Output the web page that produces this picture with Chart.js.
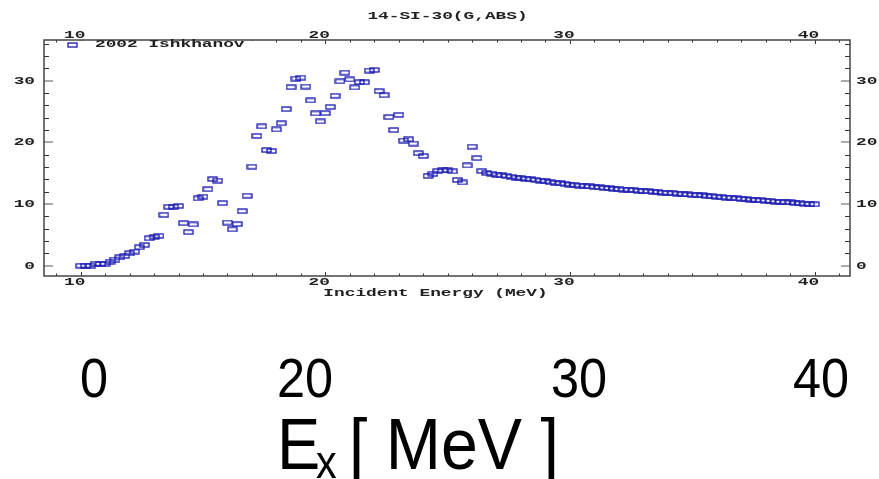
<!DOCTYPE html>
<html>
<head>
<meta charset="utf-8">
<style>
html, body { margin: 0; padding: 0; background: #fff; width: 879px; height: 479px; overflow: hidden; }
#chart { position: absolute; left: 0; top: 0; }
.big { position: absolute; font-family: "Liberation Sans", Arial, sans-serif; color: #000; line-height: 1; white-space: nowrap; }
.num { font-size: 56px; top: 350px; transform: translateX(-50%) scaleX(0.9); }
.lab { font-size: 72px; top: 408px; transform-origin: 0 0; transform: scaleX(0.9); }
</style>
<script src="https://cdn.jsdelivr.net/npm/chart.js"></script>
</head>
<body>
<canvas id="chart" width="879" height="479"></canvas>

<div class="big num" style="left:94px">0</div>
<div class="big num" style="left:305px">20</div>
<div class="big num" style="left:579px">30</div>
<div class="big num" style="left:821px">40</div>
<div class="big lab" style="left:277px">E</div>
<div class="big" style="font-size:46px; left:316px; top:439px; transform-origin:0 0; transform:scaleX(0.9)">x</div>
<div class="big lab" style="left:349px; transform:scaleX(0.92)">[ MeV ]</div>

<script>
// photo-absorption data
const energy = [
  10.0, 10.2, 10.4, 10.6, 10.8, 11.0, 11.2, 11.4, 11.6, 11.8,
  12.0, 12.2, 12.4, 12.6, 12.8, 13.0, 13.2, 13.4, 13.6, 13.8,
  14.0, 14.2, 14.4, 14.6, 14.8, 15.0, 15.2, 15.4, 15.6, 15.8,
  16.0, 16.2, 16.4, 16.6, 16.8, 17.0, 17.2, 17.4, 17.6, 17.8,
  18.0, 18.2, 18.4, 18.6, 18.8, 19.0, 19.2, 19.4, 19.6, 19.8,
  20.0, 20.2, 20.4, 20.6, 20.8, 21.0, 21.2, 21.4, 21.6, 21.8,
  22.0, 22.2, 22.4, 22.6, 22.8, 23.0, 23.2, 23.4, 23.6, 23.8,
  24.0, 24.2, 24.4, 24.6, 24.8, 25.0, 25.2, 25.4, 25.6, 25.8,
  26.0, 26.2, 26.4, 26.6, 26.8, 27.0, 27.2, 27.4, 27.6, 27.8,
  28.0, 28.2, 28.4, 28.6, 28.8, 29.0, 29.2, 29.4, 29.6, 29.8,
  30.0, 30.2, 30.4, 30.6, 30.8, 31.0, 31.2, 31.4, 31.6, 31.8,
  32.0, 32.2, 32.4, 32.6, 32.8, 33.0, 33.2, 33.4, 33.6, 33.8,
  34.0, 34.2, 34.4, 34.6, 34.8, 35.0, 35.2, 35.4, 35.6, 35.8,
  36.0, 36.2, 36.4, 36.6, 36.8, 37.0, 37.2, 37.4, 37.6, 37.8,
  38.0, 38.2, 38.4, 38.6, 38.8, 39.0, 39.2, 39.4, 39.6, 39.8,
  40.0
];
const sigma = [
  0.0, 0.0, 0.0, 0.3, 0.3, 0.3, 0.65, 1.0, 1.35, 1.6,
  2.0, 2.3, 3.0, 3.35, 4.45, 4.7, 4.85, 8.25, 9.55, 9.55,
  9.7, 6.9, 5.45, 6.7, 10.9, 11.2, 12.4, 14.05, 13.8, 10.15,
  7.0, 5.9, 6.75, 8.85, 11.35, 16.05, 21.05, 22.6, 18.75, 18.6,
  22.1, 23.1, 25.4, 28.95, 30.35, 30.5, 29.05, 26.8, 24.7, 23.4,
  24.75, 25.75, 27.55, 29.9, 31.3, 30.2, 28.9, 29.75, 29.75, 31.65,
  31.75, 28.3, 27.65, 24.1, 22.0, 24.45, 20.3, 20.5, 19.8, 18.25,
  17.8, 14.55, 14.9, 15.35, 15.45, 15.45, 15.3, 13.9, 13.5, 16.25,
  19.3, 17.45, 15.35, 15.05, 14.95, 14.75, 14.65, 14.55, 14.45, 14.3,
  14.2, 14.1, 14.0, 13.9, 13.8, 13.7, 13.55, 13.45, 13.35, 13.25,
  13.15, 13.05, 13.0, 12.9, 12.85, 12.75, 12.7, 12.6, 12.55, 12.45,
  12.4, 12.35, 12.3, 12.25, 12.15, 12.1, 12.05, 12.0, 11.95, 11.85,
  11.8, 11.75, 11.7, 11.6, 11.55, 11.5, 11.45, 11.4, 11.3, 11.25,
  11.2, 11.1, 11.05, 11.0, 10.9, 10.85, 10.8, 10.7, 10.65, 10.6,
  10.55, 10.5, 10.4, 10.35, 10.3, 10.25, 10.15, 10.1, 10.05, 10.0,
  9.95
];
const xTicks = [10, 20, 30, 40];
const yTicks = [0, 10, 20, 30];
const plotTitle = "14-SI-30(G,ABS)";
const xTitle = "Incident Energy (MeV)";
const seriesName = "2002 Ishkhanov";

const BLUE = "#1616b0";
const SX = 1.78; // the old plot's lettering is stretched sideways

// small open rectangle used as the marker
const mark = document.createElement("canvas");
mark.width = 11; mark.height = 6;
(function () {
  const c = mark.getContext("2d");
  c.strokeStyle = BLUE;
  c.lineWidth = 1.3;
  c.strokeRect(1, 1, 9, 4);
})();

function stext(ctx, str, x, y, align) {
  ctx.save();
  ctx.font = 'bold 10px "Liberation Mono", monospace';
  ctx.fillStyle = "#222";
  ctx.textBaseline = "alphabetic";
  ctx.textAlign = "left";
  const w = ctx.measureText(str).width * SX;
  let x0 = x;
  if (align === "center") x0 = x - w / 2;
  if (align === "right") x0 = x - w;
  ctx.translate(x0, y + 3);
  ctx.scale(SX, 1);
  ctx.fillText(str, 0, 0);
  ctx.restore();
}

const framePlugin = {
  id: "frame",
  beforeDatasetsDraw(chart) {
    const { ctx, chartArea: a, scales } = chart;
    const xs = scales.x, ys = scales.y;
    ctx.save();
    // minor ticks, x every 1, y every 2
    ctx.strokeStyle = "#333";
    ctx.lineWidth = 1;
    ctx.beginPath();
    for (let e = 9; e <= 41; e++) {
      const px = Math.round(xs.getPixelForValue(e)) + 0.5;
      const len = e % 10 === 0 ? 4 : 2.5;
      ctx.moveTo(px, a.top); ctx.lineTo(px, a.top + len);
      ctx.moveTo(px, a.bottom); ctx.lineTo(px, a.bottom - len);
    }
    for (let v = 2; v <= 36; v += 2) {
      if (v % 10 === 0) continue;
      const py = Math.round(ys.getPixelForValue(v)) + 0.5;
      ctx.moveTo(a.left, py); ctx.lineTo(a.left + 5, py);
      ctx.moveTo(a.right, py); ctx.lineTo(a.right - 5, py);
    }
    ctx.stroke();
    // major y ticks, grey and longer
    ctx.strokeStyle = "#aaa";
    ctx.lineWidth = 2;
    ctx.beginPath();
    yTicks.forEach(v => {
      const py = Math.round(ys.getPixelForValue(v));
      ctx.moveTo(a.left, py); ctx.lineTo(a.left + 9, py);
      ctx.moveTo(a.right, py); ctx.lineTo(a.right - 9, py);
    });
    ctx.stroke();
    // frame
    ctx.strokeStyle = "#444";
    ctx.lineWidth = 1.5;
    ctx.strokeRect(a.left, a.top, a.right - a.left, a.bottom - a.top);
    ctx.restore();
  },
  afterDraw(chart) {
    const { ctx, chartArea: a, scales } = chart;
    const xs = scales.x, ys = scales.y;
    stext(ctx, plotTitle, 447.5, 16, "center");
    xTicks.forEach(e => {
      const px = xs.getPixelForValue(e) - 6;
      stext(ctx, String(e), px, 35, "center");
      stext(ctx, String(e), px, a.bottom + 6, "center");
    });
    yTicks.forEach(v => {
      const py = ys.getPixelForValue(v);
      stext(ctx, String(v), a.left - 9, py, "right");
      stext(ctx, String(v), a.right + 6, py, "left");
    });
    stext(ctx, xTitle, 435.5, a.bottom + 17, "center");
    // legend inside the frame, top left
    ctx.save();
    ctx.fillStyle = "#fff";
    ctx.fillRect(a.left + 20, a.top + 1, 210, 8);
    ctx.drawImage(mark, 67, 42);
    ctx.restore();
    stext(ctx, seriesName, 95, a.top + 4, "left");
  }
};

new Chart(document.getElementById("chart"), {
  type: "scatter",
  data: {
    datasets: [{
      label: seriesName,
      data: energy.map((e, i) => ({ x: e, y: sigma[i] })),
      pointStyle: mark,
      pointRadius: 5,
      borderColor: BLUE,
      showLine: false
    }]
  },
  options: {
    responsive: false,
    animation: false,
    layout: { padding: { left: 44, top: 40, right: 29, bottom: 203 } },
    plugins: {
      legend: { display: false },
      title: { display: false },
      tooltip: { enabled: false }
    },
    scales: {
      x: { type: "linear", min: 8.5, max: 41.45, display: false },
      y: { type: "linear", min: -1.67, max: 36.6, display: false }
    }
  },
  plugins: [framePlugin]
});
</script>
</body>
</html>
